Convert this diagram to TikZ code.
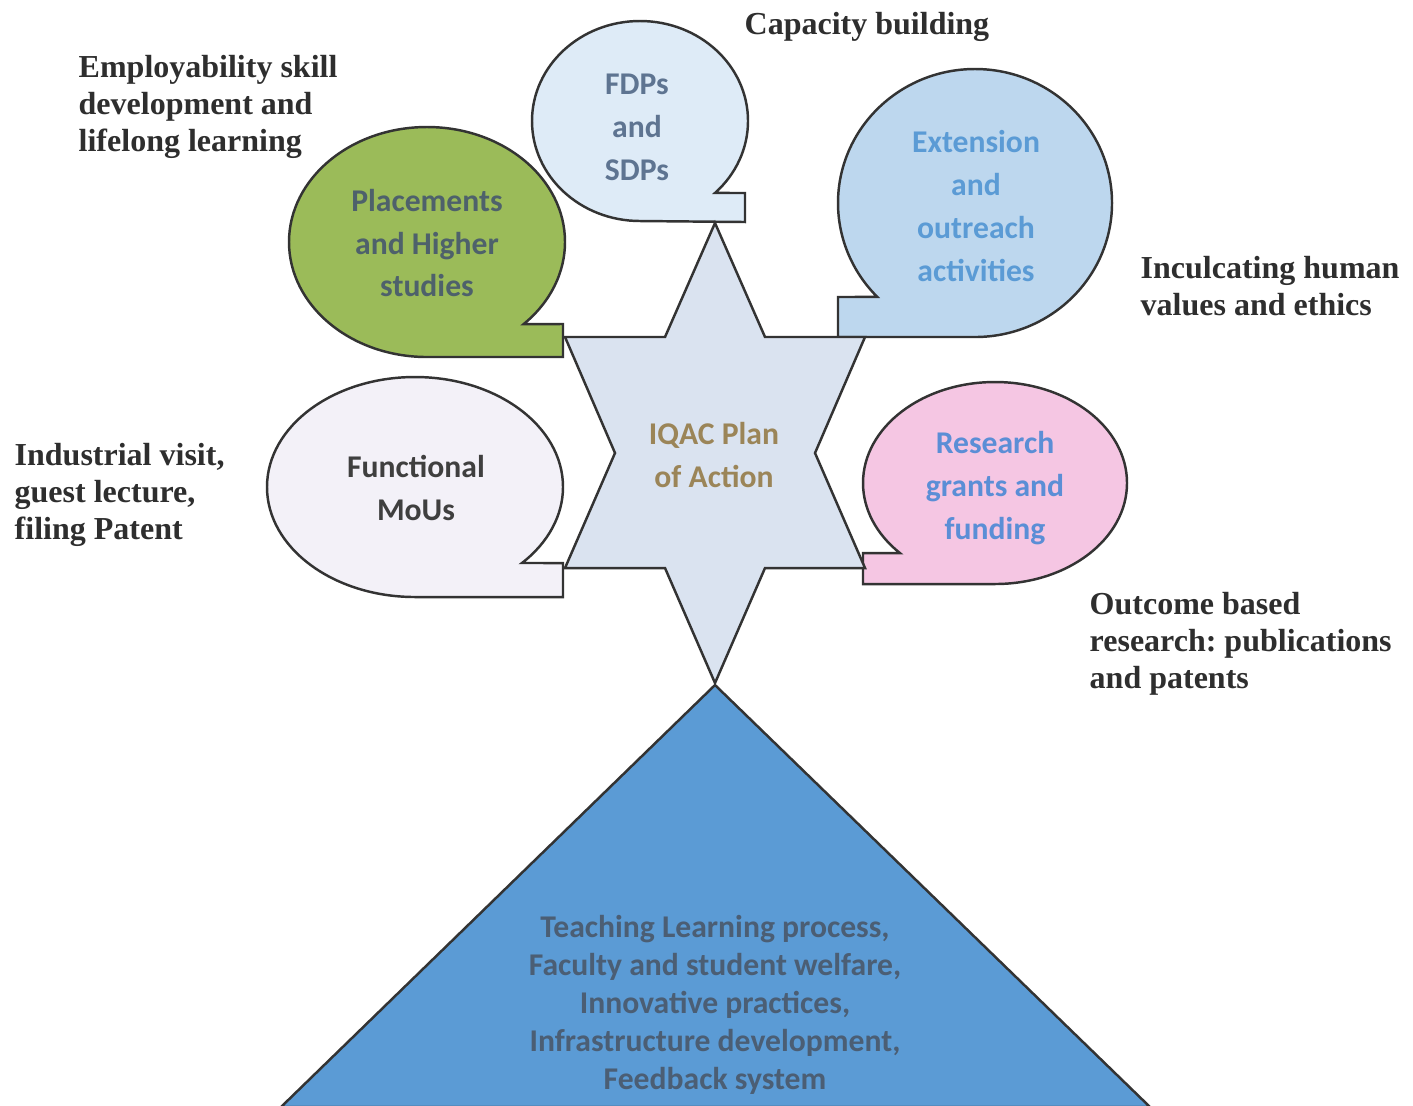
\documentclass[tikz,border=0pt]{standalone}
\usepackage{fontspec}
\setmainfont{Liberation Serif}
\newfontfamily\carlito{Carlito}
\usetikzlibrary{positioning}
\frenchspacing

\definecolor{outline}{HTML}{333333}
\definecolor{notegray}{HTML}{2E2E2E}
\definecolor{fdpfill}{HTML}{DEEBF7}
\definecolor{fdptext}{HTML}{5E7491}
\definecolor{placefill}{HTML}{9BBB59}
\definecolor{placetext}{HTML}{4E616B}
\definecolor{extfill}{HTML}{BDD7EE}
\definecolor{exttext}{HTML}{5B9BD5}
\definecolor{moufill}{HTML}{F3F1F8}
\definecolor{moutext}{HTML}{3F3F3F}
\definecolor{resfill}{HTML}{F5C6E3}
\definecolor{restext}{HTML}{5B8ED6}
\definecolor{starfill}{HTML}{DAE3F0}
\definecolor{startext}{HTML}{9B8558}
\definecolor{basefill}{HTML}{5B9BD5}
\definecolor{basetext}{HTML}{4B5E74}

\tikzset{
  bubble/.style={draw=outline, line width=0.7pt},
  intext/.style={font=\carlito\bfseries\fontsize{9}{12.2}\selectfont, align=center, inner sep=0pt},
  basetextstyle/.style={font=\carlito\bfseries\fontsize{9}{10.8}\selectfont, align=center, inner sep=0pt},
  note/.style={font=\bfseries\fontsize{9.1}{10.5}\selectfont, align=left, inner sep=0pt, anchor=west, text=notegray}
}

\begin{document}
\begin{tikzpicture}[x=0.01cm, y=-0.01cm]
    \useasboundingbox[fill=white] (0,0) rectangle (1413,1105);

    % base of the pyramid
    \draw[bubble, fill=basefill] (715,685) -- (1150,1107) -- (281,1107) -- cycle;
    \node[basetextstyle, text=basetext] (base) at (715,1005) {Teaching Learning process,\\
      Faculty and student welfare,\\ Innovative practices,\\
      Infrastructure development,\\ Feedback system};

    % callouts round the star
    \draw[bubble, fill=fdpfill] (640,221) arc[start angle=90, end angle=406, x radius=108, y radius=100]
      -- (745,193) -- (745,222) -- cycle;
    \draw[bubble, fill=placefill] (427,357) arc[start angle=90, end angle=405.5, x radius=138, y radius=115]
      -- (563,324) -- (563,357) -- cycle;
    \draw[bubble, fill=moufill] (415,597) arc[start angle=90, end angle=403.7, x radius=148, y radius=110]
      -- (563,563) -- (563,597) -- cycle;
    \draw[bubble, fill=extfill] (975,337) arc[start angle=90, end angle=-224.5, x radius=137, y radius=134]
      -- (838,297) -- (838,337) -- cycle;
    \draw[bubble, fill=resfill] (995,584) arc[start angle=90, end angle=-223.9, x radius=132, y radius=101]
      -- (863,553) -- (863,584) -- cycle;

    % the star
    \draw[bubble, fill=starfill] (715,223) -- (765,337) -- (865,337) -- (815,453) -- (865,568)
      -- (765,568) -- (715,683) -- (665,568) -- (565,568) -- (615,453) -- (565,337)
      -- (665,337) -- cycle;

    \node[intext, text=startext] (iqac) at (714,455) {IQAC Plan\\ of Action};
    \node[intext, text=fdptext] (fdp) at (637,127) {FDPs\\ and\\ SDPs};
    \node[intext, text=placetext] (place) at (427,243) {Placements\\ and Higher\\ studies};
    \node[intext, text=moutext] (mou) at (416,488) {Functional\\ MoUs};
    \node[intext, text=exttext] (ext) at (976,206) {Extension\\ and\\ outreach\\ activities};
    \node[intext, text=restext] (res) at (995,488) {Research\\ grants and\\ funding};

    % notes
    \node[note] (capnote) at (744,27) {Capacity building};
    \node[note] (empnote) at (78,107) {Employability skill\\ development and\\ lifelong learning};
    \node[note] (valnote) at (1140,286) {Inculcating human\\ values and ethics};
    \node[note] (indnote) at (14,495) {Industrial visit,\\ guest lecture,\\ filing Patent};
    \node[note] (outnote) at (1089,644) {Outcome based\\ research: publications\\ and patents};
\end{tikzpicture}
\end{document}
